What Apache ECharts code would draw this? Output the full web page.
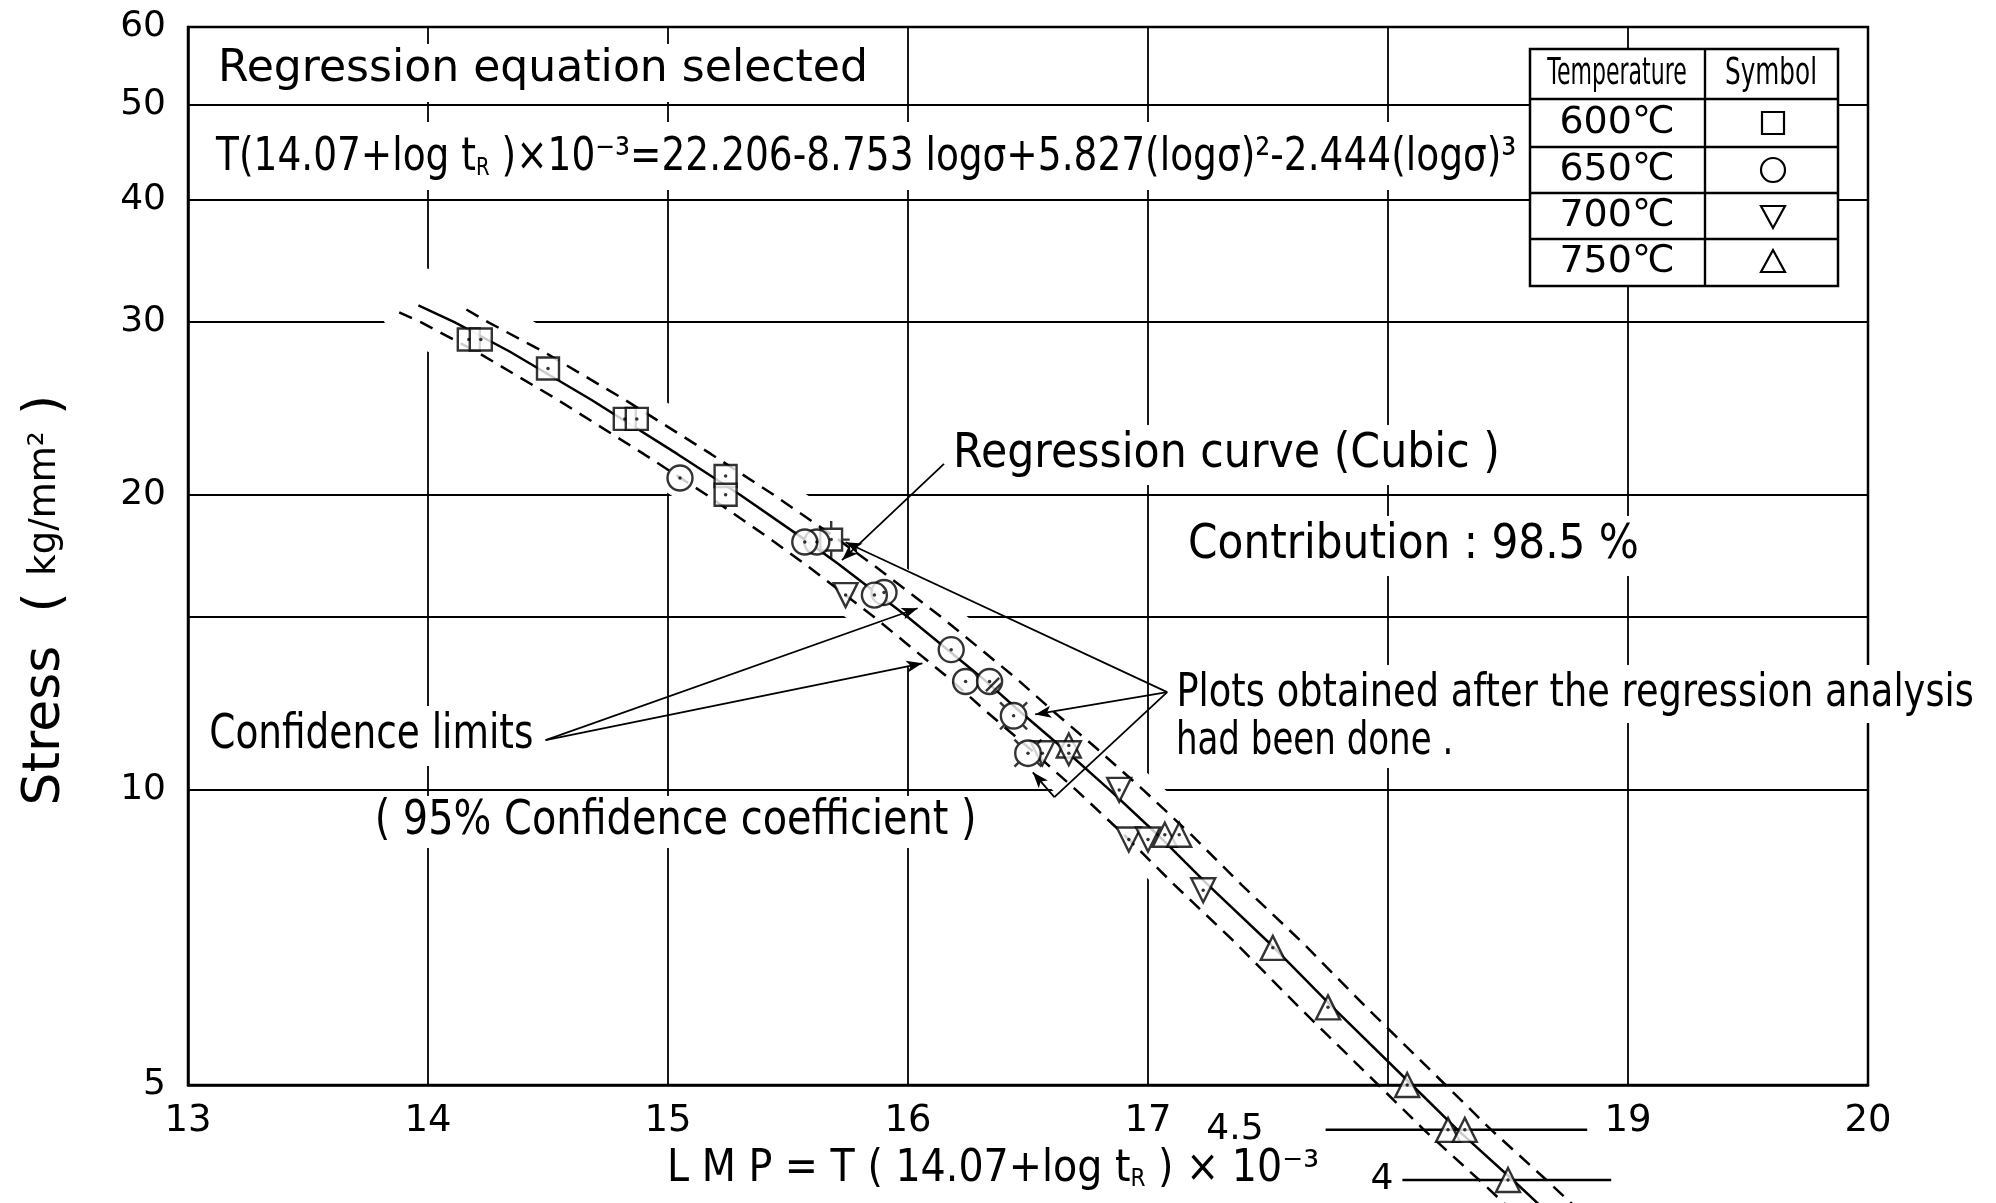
<!DOCTYPE html>
<html>
<head>
<meta charset="utf-8">
<title>Larson-Miller parameter vs stress</title>
<script src="https://cdn.jsdelivr.net/npm/echarts@6/dist/echarts.min.js"></script>
<style>
  html, body { margin: 0; padding: 0; background: #fff; }
  #chart { width: 1996px; height: 1203px; }
</style>
</head>
<body>
<div id="chart"></div>
<script>
// ---- Axis ticks ----
const xTicks = [13, 14, 15, 16, 17, 18, 19, 20];
const xLabelHidden = [18];
const yLabelTicks = [5, 10, 20, 30, 40, 50, 60];
const yGridTicks = [5, 10, 15, 20, 30, 40, 50, 60];
const extTicks = [4.5, 4];            // stress levels continued below the frame

// ---- Regression curve (cubic) : stress (kg/mm2) and LMP ----
const curveStress = [31.2, 30, 28, 25, 22, 20, 18, 17, 15, 13, 12, 11, 10, 9, 8, 7, 6, 5, 4.5, 4, 3.6];
const curveLMP    = [13.96, 14.11, 14.34, 14.68, 15.04, 15.30, 15.57, 15.71, 16.00, 16.31, 16.47, 16.65, 16.84, 17.04, 17.25, 17.50, 17.77, 18.10, 18.29, 18.52, 18.72];

// ---- 95 % confidence limits ----
const upperStress = [30.9, 30, 28, 25, 22, 20, 18, 17, 15, 13, 12, 11, 10, 9, 8, 7, 6, 5, 4.5, 4, 3.6];
const upperLMP    = [14.16, 14.25, 14.48, 14.82, 15.18, 15.44, 15.71, 15.85, 16.14, 16.45, 16.61, 16.79, 16.98, 17.18, 17.39, 17.64, 17.91, 18.24, 18.43, 18.66, 18.86];
const lowerStress = [30.7, 30, 28, 25, 22, 20, 18, 17, 15, 13, 12, 11, 10, 9, 8, 7, 6, 5, 4.5, 4, 3.6];
const lowerLMP    = [13.88, 13.97, 14.20, 14.54, 14.90, 15.16, 15.43, 15.57, 15.86, 16.17, 16.33, 16.51, 16.70, 16.90, 17.11, 17.36, 17.63, 17.96, 18.15, 18.38, 18.58];

// ---- Rupture data [LMP, stress] ----
const pts600      = [[14.17, 28.8], [14.22, 28.8], [14.50, 26.9], [14.82, 23.9], [14.87, 23.9], [15.24, 20.9], [15.24, 20.0]];
const pts600After = [[15.68, 18.0]];
const pts650      = [[15.05, 20.8], [15.62, 17.9], [15.57, 17.9], [15.90, 15.9], [15.86, 15.8], [16.18, 13.9], [16.24, 12.9]];
const pts650Hatch = [[16.34, 12.9]];
const pts650After = [[16.44, 11.9], [16.50, 10.9]];
const pts700      = [[15.74, 15.8], [16.56, 10.9], [16.67, 10.9], [16.88, 10.0], [16.92, 8.9], [17.00, 8.9], [17.23, 7.9]];
const pts750      = [[16.67, 11.1], [17.07, 9.0], [17.13, 9.0], [17.52, 6.9], [17.75, 6.0], [18.08, 5.0], [18.25, 4.5], [18.32, 4.5], [18.50, 4.0]];

// ---- Legend table ----
const tempLabels = ['600℃', '650℃', '700℃', '750℃'];

// ---- Leader lines for the notes, in [LMP, stress] ----
const leaders = [
  { from: [16.15, 21.5], to: [15.725, 17.15], arrow: true },
  { from: [14.49, 11.24], to: [16.04, 15.32], arrow: true },
  { from: [14.49, 11.24], to: [16.06, 13.46], arrow: true },
  { from: [17.08, 12.58], to: [15.74, 17.89], arrow: true },
  { from: [17.08, 12.58], to: [16.53, 11.94], arrow: true },
  { from: [17.08, 12.58], to: [16.61, 9.83], arrow: false },
  { from: [16.61, 9.83], to: [16.52, 10.42], arrow: true }
];
const extSpans = [[17.74, 18.83], [18.06, 18.93]];
const extLabelGap = [62, 9];

const FONT = 'DejaVu Sans';
const INK = '#000';

const pairs = (xs, ys) => xs.map((x, i) => [x, ys[i]]);
const regCurve = pairs(curveLMP, curveStress);
const upperCurve = pairs(upperLMP, upperStress);
const lowerCurve = pairs(lowerLMP, lowerStress);

// symbols for points plotted after the regression analysis
const SYM_SQUARE_CROSS = 'path://M10,10L30,10L30,30L10,30Z M20,3L20,10 M20,30L20,37 M3,20L10,20 M30,20L37,20';
const SYM_CIRCLE_TICKS = 'path://M8,20A12,12,0,1,0,32,20A12,12,0,1,0,8,20Z M29.2,10.8L32.7,7.3 M10.8,10.8L7.3,7.3 M10.8,29.2L7.3,32.7 M29.2,29.2L32.7,32.7';
const SYM_CIRCLE_HATCH = 'path://M8,20A12,12,0,1,0,32,20A12,12,0,1,0,8,20Z M29.2,16.5L16.5,29.2 M31.3,21.8L21.8,31.3';

const markerStyle = { color: '#fff', borderColor: INK, borderWidth: 2.4 };

function pointSeries(name, data, symbol, size, extra) {
  return Object.assign({
    name, type: 'scatter', data, symbol, symbolSize: size, symbolKeepAspect: true,
    itemStyle: markerStyle, z: 3, clip: false, silent: true
  }, extra || {});
}

function curveSeries(name, data, dashed) {
  return {
    name, type: 'line', data, symbol: 'none', showSymbol: false, clip: false, silent: true, z: 2,
    lineStyle: { color: INK, width: 2.5, type: dashed ? [14, 9] : 'solid' }
  };
}

const allPoints = [].concat(pts600, pts600After, pts650, pts650Hatch, pts650After, pts700, pts750);

const series = [
  // white clearance along the curve band (breaks the grid lines)
  {
    name: 'clearance', type: 'line', data: regCurve.filter(p => p[1] >= 5.6),
    symbol: 'none', silent: true, z: 1, clip: true,
    lineStyle: { color: '#fff', width: 76, cap: 'round', join: 'round' }
  },
  Object.assign(curveSeries('Regression curve', regCurve, false), {
    markLine: {
      silent: true, z: 5, animation: false,
      symbol: ['none', 'arrow'], symbolSize: [9, 16],
      label: { show: false },
      lineStyle: { color: INK, width: 1.8, type: 'solid' },
      data: leaders.map(l => [
        { coord: l.from, symbol: 'none' },
        { coord: l.to, symbol: l.arrow ? 'arrow' : 'none' }
      ])
    }
  }),
  curveSeries('Upper confidence limit', upperCurve, true),
  curveSeries('Lower confidence limit', lowerCurve, true),
  // continuation of the stress scale below the frame
  ...extTicks.map((v, i) => ({
    name: 'ext ' + v, type: 'line', data: [[extSpans[i][0], v], [extSpans[i][1], v]],
    symbol: 'none', clip: false, silent: true, z: 2,
    lineStyle: { color: INK, width: 2.5 }
  })),
  pointSeries('600℃', pts600, 'rect', 22),
  pointSeries('600℃ (after)', pts600After, SYM_SQUARE_CROSS, 37),
  pointSeries('750℃', pts750, 'triangle', 24),
  pointSeries('700℃', pts700, 'triangle', 24, { symbolRotate: 180 }),
  pointSeries('650℃', pts650, 'circle', 25),
  pointSeries('650℃ (hatched)', pts650Hatch, SYM_CIRCLE_HATCH, 25),
  pointSeries('650℃ (after)', pts650After, SYM_CIRCLE_TICKS, 27),
  {
    name: 'centres', type: 'scatter', data: allPoints, symbol: 'circle', symbolSize: 3.5,
    itemStyle: { color: INK }, z: 4, clip: false, silent: true
  }
];

// ---- text and table drawn on top ----
function txt(x, y, text, size, sx, extra) {
  return {
    type: 'text', x, y, scaleX: sx, z: 10, silent: true,
    style: Object.assign({
      text, fontSize: size, fontFamily: FONT, fill: INK, align: 'left', verticalAlign: 'middle'
    }, extra || {})
  };
}
const bg = { backgroundColor: '#fff', padding: [4, 8, 8, 8] };

const TX = 1530, TY = 49, TW = 308, TH = 237, TC = 175;
const rowLines = [50, 98, 144, 190];
const rowMid = [25, 74, 121, 167, 213];
const tableLine = (x1, y1, x2, y2) => ({
  type: 'line', z: 11, silent: true, shape: { x1: TX + x1, y1: TY + y1, x2: TX + x2, y2: TY + y2 },
  style: { stroke: INK, lineWidth: 2.4 }
});
const symCx = TX + 243;
const symStyle = { fill: '#fff', stroke: INK, lineWidth: 2.2 };

const graphic = [
  // rows of the heading block
  { type: 'rect', z: 1, silent: true, shape: { x: 196, y: 44, width: 684, height: 58 }, style: { fill: '#fff' } },
  { type: 'rect', z: 1, silent: true, shape: { x: 196, y: 122, width: 1330, height: 68 }, style: { fill: '#fff' } },
  txt(218, 69, 'Regression equation selected', 45, 0.98),
  txt(216, 158, 'T(14.07+log t{s|R} )×10⁻³=22.206-8.753 logσ+5.827(logσ)²-2.444(logσ)³', 46, 0.815, {
    rich: { s: { fontSize: 24, fontFamily: FONT, fill: INK, verticalAlign: 'bottom' } }
  }),
  txt(946, 455, 'Regression curve (Cubic )', 48, 0.89, bg),
  txt(1181, 546, 'Contribution : 98.5 %', 48, 0.88, bg),
  txt(1170, 694, 'Plots obtained after the regression analysis', 46, 0.80, bg),
  txt(1170, 742, 'had been done .', 46, 0.74, { backgroundColor: '#fff', padding: [0, 8, 6, 8] }),
  txt(203, 736, 'Confidence limits', 48, 0.78, bg),
  txt(368, 822, '( 95% Confidence coefficient )', 48, 0.83, { backgroundColor: '#fff', padding: [0, 8, 4, 8] }),
  // axis titles
  {
    type: 'text', x: 45, y: 600, rotation: Math.PI / 2, z: 10, silent: true,
    style: {
      text: 'Stress  ( {u|kg/mm²} )', fontSize: 52, fontFamily: FONT, fill: INK,
      align: 'center', verticalAlign: 'middle',
      rich: { u: { fontSize: 37, fontFamily: FONT, fill: INK } }
    }
  },
  {
    type: 'text', x: 993, y: 1170, scaleX: 0.9, z: 10, silent: true,
    style: {
      text: 'L M P = T ( 14.07+log t{s|R} ) × 10⁻³', fontSize: 44, fontFamily: FONT, fill: INK,
      align: 'center', verticalAlign: 'middle',
      rich: { s: { fontSize: 24, fontFamily: FONT, fill: INK, verticalAlign: 'bottom' } }
    }
  },
  // temperature / symbol table
  { type: 'rect', z: 11, silent: true, shape: { x: TX, y: TY, width: TW, height: TH }, style: { fill: '#fff', stroke: INK, lineWidth: 2.5 } },
  ...rowLines.map(y => tableLine(0, y, TW, y)),
  tableLine(TC, 0, TC, TH),
  Object.assign(txt(TX + 87, TY + rowMid[0], 'Temperature', 38, 0.58, { align: 'center' }), { z: 12 }),
  Object.assign(txt(TX + 241, TY + rowMid[0], 'Symbol', 38, 0.65, { align: 'center' }), { z: 12 }),
  ...tempLabels.map((t, i) => Object.assign(txt(TX + 87, TY + rowMid[i + 1], t, 38, 1, { align: 'center' }), { z: 12 })),
  { type: 'rect', z: 12, silent: true, shape: { x: symCx - 11, y: TY + rowMid[1] - 11, width: 22, height: 22 }, style: symStyle },
  { type: 'circle', z: 12, silent: true, shape: { cx: symCx, cy: TY + rowMid[2], r: 12 }, style: symStyle },
  { type: 'polygon', z: 12, silent: true, shape: { points: [[symCx - 12, TY + rowMid[3] - 10], [symCx + 12, TY + rowMid[3] - 10], [symCx, TY + rowMid[3] + 12]] }, style: symStyle },
  { type: 'polygon', z: 12, silent: true, shape: { points: [[symCx - 12, TY + rowMid[4] + 10], [symCx + 12, TY + rowMid[4] + 10], [symCx, TY + rowMid[4] - 12]] }, style: symStyle }
];

const option = {
  animation: false,
  backgroundColor: '#fff',
  grid: {
    left: 188, right: 128, top: 27, bottom: 118,
    show: true, borderColor: INK, borderWidth: 2.5, backgroundColor: 'rgba(0,0,0,0)',
    containLabel: false, outerBoundsMode: 'none'
  },
  xAxis: {
    type: 'value', min: xTicks[0], max: xTicks[xTicks.length - 1], interval: 1,
    axisLine: { show: true, onZero: false, lineStyle: { color: INK, width: 2.5 } },
    axisTick: { show: false },
    splitLine: { show: true, lineStyle: { color: INK, width: 1.8 } },
    axisLabel: {
      color: INK, fontSize: 37, fontFamily: FONT, margin: 18,
      formatter: v => xLabelHidden.includes(Math.round(v)) ? '' : String(Math.round(v))
    }
  },
  yAxis: {
    type: 'log', logBase: 10, min: yGridTicks[0], max: yGridTicks[yGridTicks.length - 1],
    axisLine: { show: true, onZero: false, lineStyle: { color: INK, width: 2.5 } },
    axisTick: { show: false, customValues: yGridTicks },
    splitLine: { show: true, lineStyle: { color: INK, width: 1.8 } },
    axisLabel: {
      customValues: yLabelTicks, color: INK, fontSize: 36, fontFamily: FONT, margin: 22,
      formatter: v => String(Math.round(v * 10) / 10)
    }
  },
  series,
  graphic
};

const chart = echarts.init(document.getElementById('chart'), null, { renderer: 'canvas' });
chart.setOption(option);

// tick values of the continued stress scale, placed through the axes
const extLabels = extTicks.map((v, i) => {
  const p = chart.convertToPixel({ gridIndex: 0 }, [extSpans[i][0], v]);
  return {
    type: 'text', x: p[0] - extLabelGap[i], y: p[1], z: 10, silent: true,
    style: { text: String(v), fontSize: 36, fontFamily: FONT, fill: INK, align: 'right', verticalAlign: 'middle' }
  };
});
chart.setOption({ graphic: graphic.concat(extLabels) });
</script>
</body>
</html>
